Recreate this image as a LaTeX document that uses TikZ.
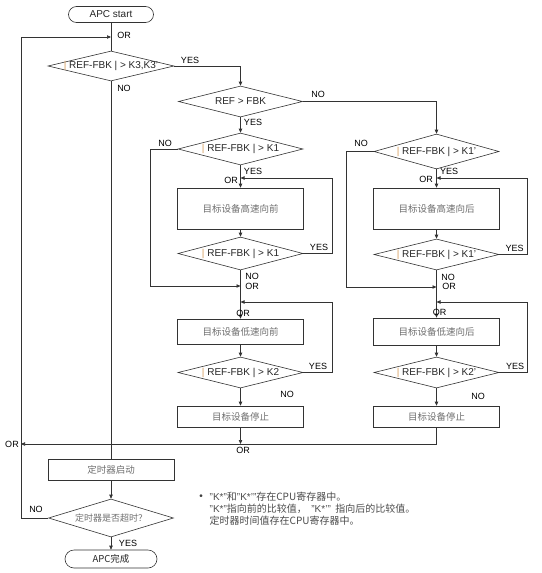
\documentclass[tikz,border=0pt]{standalone}
\usepackage{fontspec}
\setmainfont{Liberation Sans}
\newfontfamily\cjk{Noto Sans CJK SC}
\usetikzlibrary{shapes.geometric,arrows.meta}
\definecolor{ln}{HTML}{333333}
\definecolor{zhgray}{HTML}{707070}
\definecolor{barc}{HTML}{D8A060}
\newcommand{\dtext}[1]{\makebox[0pt]{#1}}
\newcommand{\obar}{{\color{barc}|}}
\newcommand{\kq}[1]{{\rmfamily "#1"}}
\begin{document}
\begin{tikzpicture}[x=1pt,y=-1pt,
  every node/.style={font=\fontsize{10}{11}\selectfont, text=black!85},
  line/.style={draw=ln, line width=0.6pt},
  arr/.style={line, -{Triangle[length=4pt,width=3.4pt]}},
  dia/.style={diamond, draw=ln, line width=0.6pt, inner sep=0pt, aspect=4, minimum width=125pt, minimum height=32pt},
  box/.style={rectangle, draw=ln, line width=0.6pt, minimum width=126pt, inner sep=0pt},
  term/.style={rectangle, rounded corners=8pt, draw=ln, line width=0.6pt, inner sep=0pt},
  lab/.style={font=\fontsize{9}{10}\selectfont, inner sep=0pt, text=black},
  zh/.style={font=\fontsize{9.5}{11}\selectfont\cjk, text=zhgray}
]
\useasboundingbox[fill=white] (0,0) rectangle (541,573);

% main column
\node[term, minimum width=85pt, minimum height=16pt] (start) at (111,14.5) {APC start};
\node[dia, minimum width=126pt, minimum height=30pt] (d1) at (111,66) {\dtext{\obar~REF-FBK~|~> K3,K3'}};
\node[box, zh, minimum height=21pt] (timer) at (111,469.5) {定时器启动};
\node[dia, zh, minimum width=125pt, minimum height=38pt, font=\fontsize{9}{11}\selectfont\cjk] (tout) at (111,518) {\dtext{定时器是否超时？}};
\node[term, zh, text=black!85, minimum width=92pt, minimum height=18pt, rounded corners=9pt] (fin) at (111,559) {APC完成};

% left branch
\node[dia, minimum width=124pt, minimum height=31pt] (d2) at (240.5,101.5) {\dtext{REF > FBK}};
\node[dia, minimum height=32pt] (dL1) at (240.5,149) {\dtext{\obar~REF-FBK~|~> K1}};
\node[box, zh, minimum height=41pt] (bL1) at (240.5,208.5) {目标设备高速向前};
\node[dia, minimum height=33pt] (dL2) at (240.5,253.5) {\dtext{\obar~REF-FBK~|~> K1}};
\node[box, zh, minimum height=25pt] (bL2) at (240.5,331.5) {目标设备低速向前};
\node[dia, minimum height=31pt] (dL3) at (240.5,372.5) {\dtext{\obar~REF-FBK~|~> K2}};
\node[box, zh, minimum height=21pt] (bL3) at (240.5,416.5) {目标设备停止};

% right branch
\node[dia, minimum height=35pt] (dR1) at (436.5,151.5) {\dtext{\obar~REF-FBK~|~> K1'}};
\node[box, zh, minimum height=41pt] (bR1) at (436.5,208.5) {目标设备高速向后};
\node[dia, minimum height=31pt] (dR2) at (436.5,254.5) {\dtext{\obar~REF-FBK~|~> K1'}};
\node[box, zh, minimum height=27pt] (bR2) at (436.5,331.5) {目标设备低速向后};
\node[dia, minimum height=31pt] (dR3) at (436.5,372.5) {\dtext{\obar~REF-FBK~|~> K2'}};
\node[box, zh, minimum height=21pt] (bR3) at (436.5,416.5) {目标设备停止};

% merge coordinates
\coordinate (m0) at (111,37);
\coordinate (mL1) at (240.5,178);
\coordinate (mL2) at (240.5,286);
\coordinate (mL3) at (240.5,302);
\coordinate (mLb) at (240.5,444);
\coordinate (mR1) at (436.5,178);
\coordinate (mR2) at (436.5,287);
\coordinate (mR3) at (436.5,302);
\coordinate (mX) at (21,444);

% main connectors
\draw[line] (start.south) -- (d1.north);
\draw[line] (d1.south) -- (timer.north);
\draw[arr] (timer.south) -- (tout.north);
\draw[arr] (tout.south) -- (fin.north);
\draw[arr] (tout.west) -- (21,518) -- (21,37) -- (m0);
\draw[arr] (d1.east) -| (d2.north);
\draw[arr] (d2.east) -| (dR1.north);

% left branch connectors
\draw[arr] (d2.south) -- (dL1.north);
\draw[arr] (dL1.south) -- (bL1.north);
\draw[arr] (bL1.south) -- (dL2.north);
\draw[arr] (dL2.east) -- (332,253.5) -- (332,178) -- (mL1);
\draw[arr] (dL1.west) -- (150,149) -- (150,286) -- (mL2);
\draw[arr] (dL2.south) -- (bL2.north);
\draw[arr] (dL3.east) -- (332,372.5) -- (332,302) -- (mL3);
\draw[arr] (bL2.south) -- (dL3.north);
\draw[arr] (dL3.south) -- (bL3.north);
\draw[arr] (bL3.south) -- (mLb);

% right branch connectors
\draw[arr] (dR1.south) -- (bR1.north);
\draw[arr] (bR1.south) -- (dR2.north);
\draw[arr] (dR2.east) -- (527,254.5) -- (527,178) -- (mR1);
\draw[arr] (dR1.west) -- (346,151.5) -- (346,287) -- (mR2);
\draw[arr] (dR2.south) -- (bR2.north);
\draw[arr] (dR3.east) -- (527,372.5) -- (527,302) -- (mR3);
\draw[arr] (bR2.south) -- (dR3.north);
\draw[arr] (dR3.south) -- (bR3.north);
\draw[arr] (bR3.south) -- (436.5,444) -- (mX);

% labels
\node[lab] (l1) at (124,35) {OR};
\node[lab] (l2) at (190,60) {YES};
\node[lab] (l3) at (124,88) {NO};
\node[lab] (l4) at (318,94) {NO};
\node[lab] (l5) at (253,122) {YES};
\node[lab] (l6) at (165,143) {NO};
\node[lab] (l7) at (253,171) {YES};
\node[lab] (l8) at (231,180) {OR};
\node[lab] (l9) at (319,247) {YES};
\node[lab] (l10) at (252,276) {NO};
\node[lab] (l11) at (252,286) {OR};
\node[lab] (l12) at (243,313) {OR};
\node[lab] (l13) at (318,366) {YES};
\node[lab] (l14) at (287,394) {NO};
\node[lab] (l15) at (243,450) {OR};
\node[lab] (l16) at (12,444) {OR};
\node[lab] (l17) at (36,509) {NO};
\node[lab] (l18) at (128,543) {YES};
\node[lab] (r1) at (361,143) {NO};
\node[lab] (r2) at (449,171) {YES};
\node[lab] (r3) at (426,179) {OR};
\node[lab] (r4) at (514.5,248) {YES};
\node[lab] (r5) at (448,277) {NO};
\node[lab] (r6) at (449,286) {OR};
\node[lab] (r7) at (439.5,312) {OR};
\node[lab] (r8) at (515,366) {YES};
\node[lab] (r9) at (478,396) {NO};

% note
\node[inner sep=0pt, text=black!75] (bul) at (201,497) {•};
\node[anchor=west, align=left, inner sep=0pt, font=\fontsize{10}{12}\selectfont\cjk, text=black!70] (note) at (209.5,509)
  {\kq{K*}和\kq{K*'}存在CPU寄存器中。\\
   \kq{K*}指向前的比较值，\ \ \kq{K*'}\ \ 指向后的比较值。\\
   定时器时间值存在CPU寄存器中。};
\end{tikzpicture}
\end{document}
